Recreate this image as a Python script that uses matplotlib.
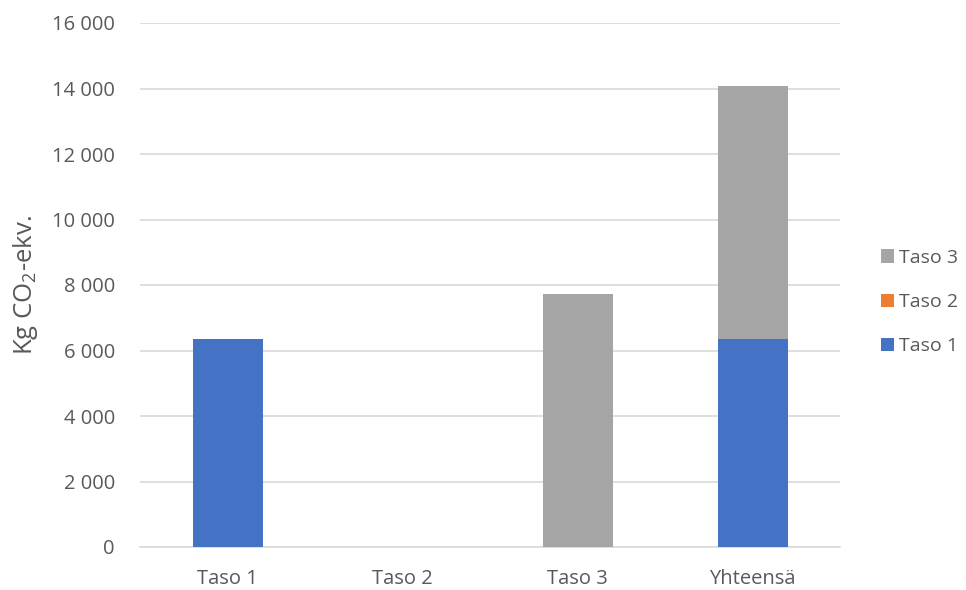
import numpy as np
import matplotlib
matplotlib.use("Agg")
import matplotlib.pyplot as plt

# Data
categories = ["Taso 1", "Taso 2", "Taso 3", "Yhteensä"]
taso1 = [6340, 0, 0, 6340]
taso2 = [0, 0, 0, 0]
taso3 = [0, 0, 7725, 7725]
series_names = ["Taso 1", "Taso 2", "Taso 3"]
colors = ["#4472C4", "#ED7D31", "#A5A5A5"]

plt.rcParams['font.family'] = ['Open Sans', 'DejaVu Sans']
text_color = "#595959"

fig = plt.figure(figsize=(9.66, 5.9), dpi=100)
ax = fig.add_axes([140 / 966, 1 - 547 / 590, 700 / 966, 524 / 590])

x = np.arange(len(categories))
width = 0.4
bottom = np.zeros(len(categories))
bars = []
for name, vals, c in zip(series_names, [taso1, taso2, taso3], colors):
    b = ax.bar(x, vals, width, bottom=bottom, color=c, label=name, zorder=3)
    bars.append(b)
    bottom += np.array(vals)

ax.set_xlim(-0.5, len(categories) - 0.5)
ax.set_ylim(0, 16000)
ax.set_yticks(np.arange(0, 16001, 2000))
ax.set_yticklabels([f"{v:,}".replace(",", " ") for v in range(0, 16001, 2000)])
ax.set_xticks(x)
ax.set_xticklabels(categories)

ax.grid(axis="y", color="#D9D9D9", linewidth=1.2, zorder=0)
for s in ["top", "right", "left"]:
    ax.spines[s].set_visible(False)
ax.spines["bottom"].set_color("#D9D9D9")
ax.spines["bottom"].set_linewidth(1.2)
ax.tick_params(axis="both", length=0, labelsize=14.5, labelcolor=text_color)
ax.tick_params(axis="y", pad=18)
ax.tick_params(axis="x", pad=16)

ax.set_ylabel("Kg CO$_\\mathregular{2}$-ekv.", fontsize=18.5, color=text_color)
ax.yaxis.set_label_coords(-0.143, 0.5)

# legend, reversed order like the original
handles = [bars[2], bars[1], bars[0]]
labels = ["Taso 3", "Taso 2", "Taso 1"]
fig.legend(handles, labels, loc="center left", bbox_to_anchor=(863 / 966, 1 - 302 / 590),
           frameon=False, fontsize=14, labelcolor=text_color, handlelength=0.67,
           handleheight=0.67, handletextpad=0.3, labelspacing=1.35)

fig.savefig("out.png", dpi=100)
